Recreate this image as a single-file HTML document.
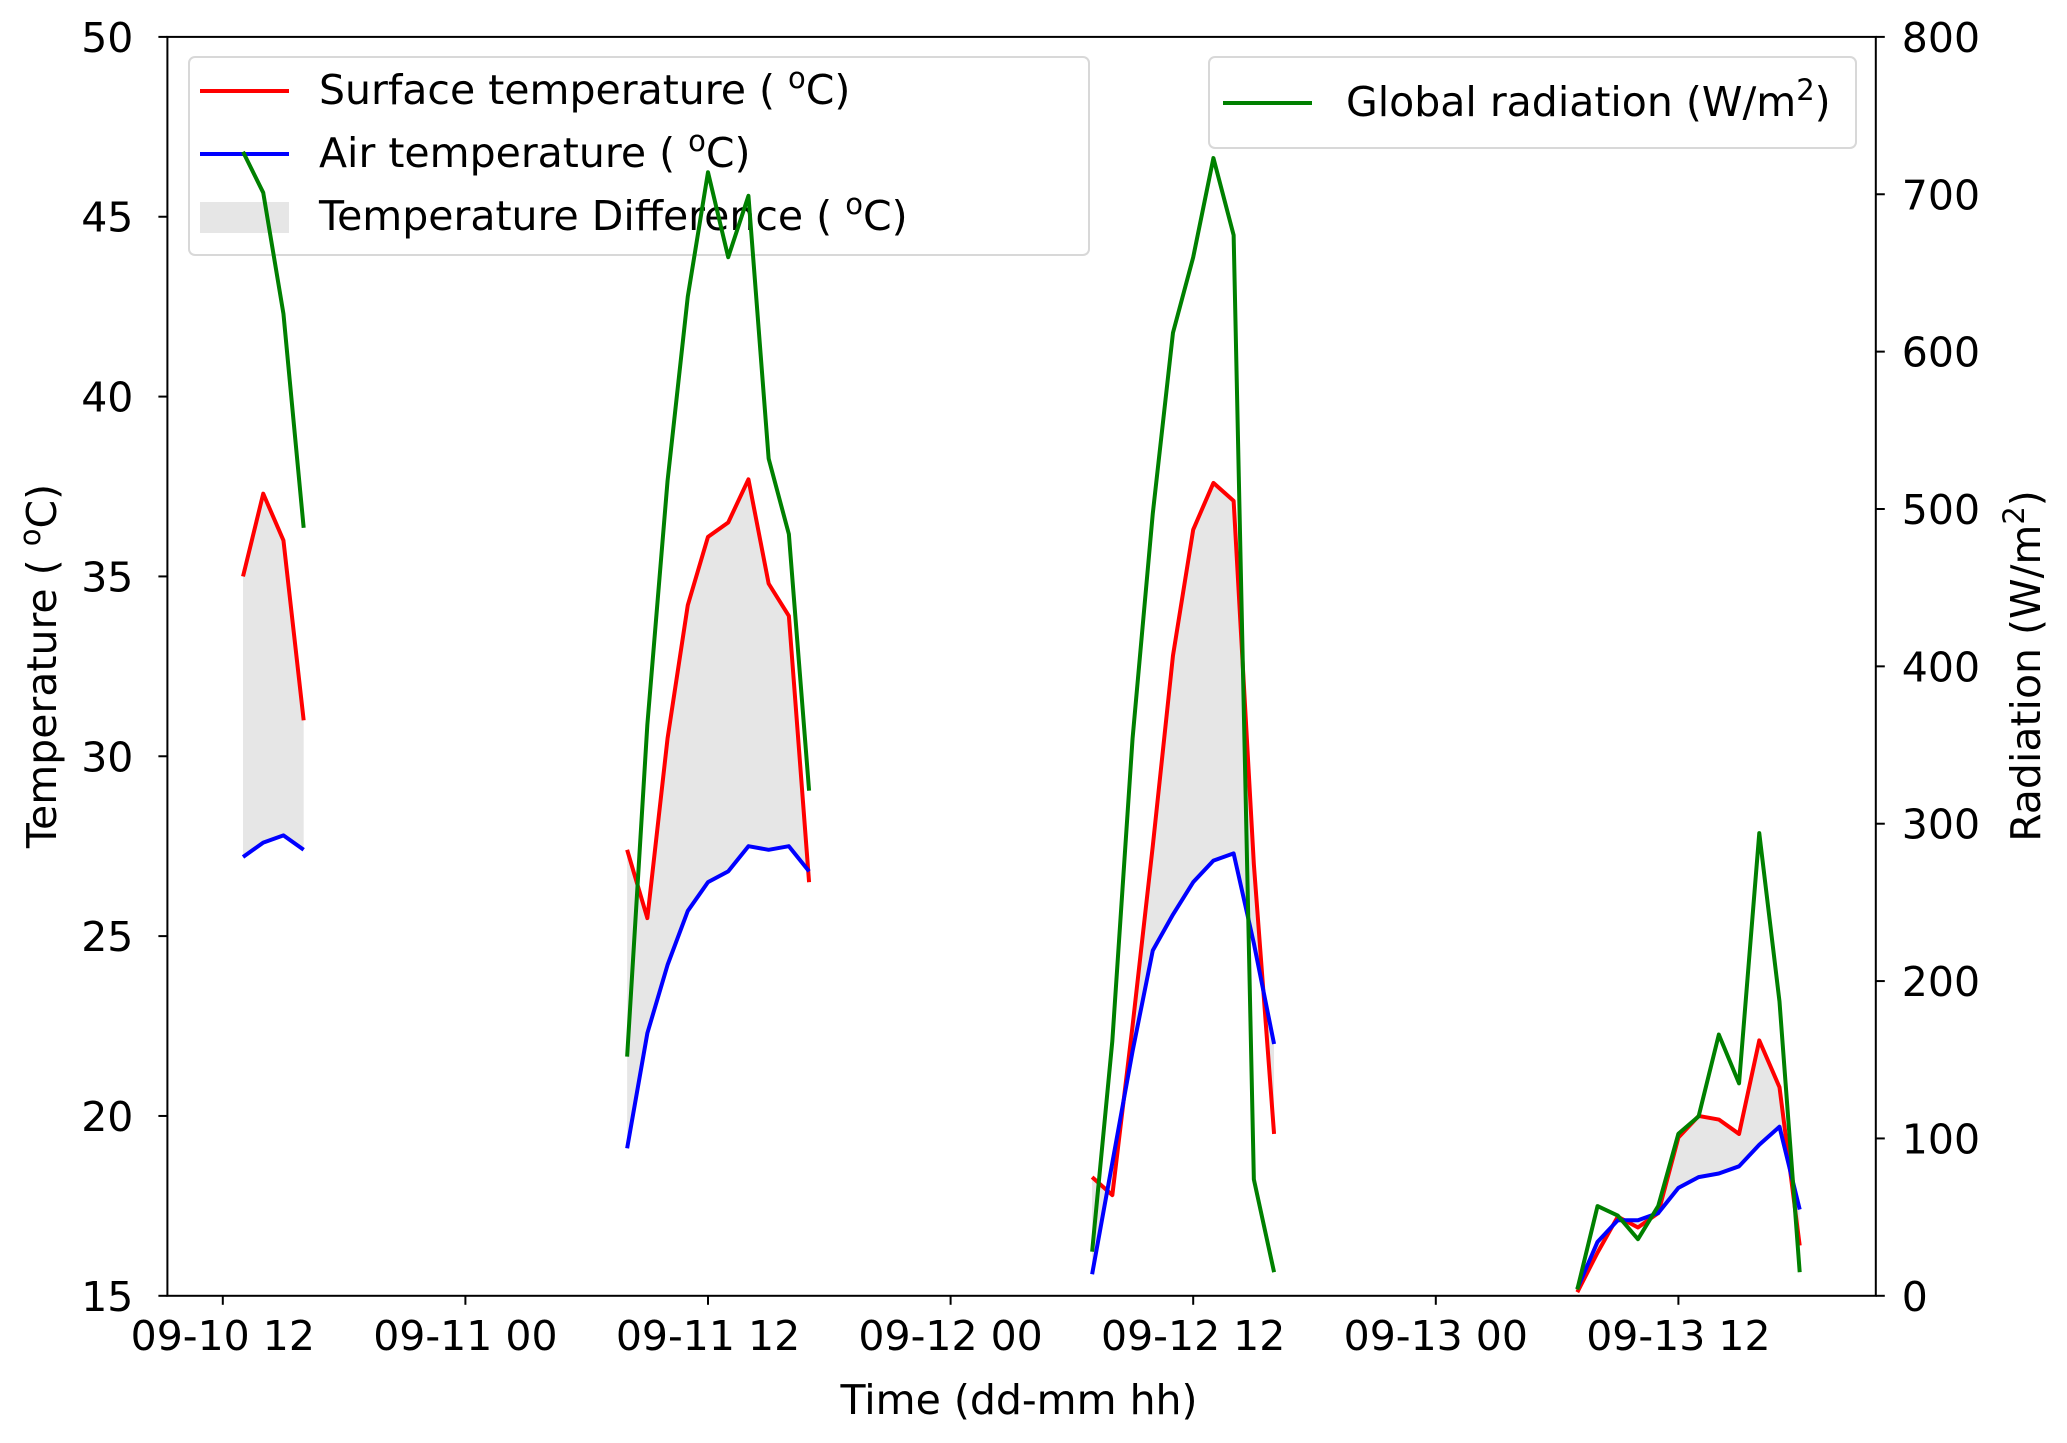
<!DOCTYPE html>
<html><head><meta charset="utf-8"><style>
html,body{margin:0;padding:0;background:#fff;}
svg{display:block;font-family:"DejaVu Sans","Liberation Sans",sans-serif;}
</style></head><body>
<svg id="chart" width="2067" height="1443" viewBox="0 0 2067 1443" xmlns="http://www.w3.org/2000/svg" font-size="41">
  <g id="under"></g>
  <g>
    <rect x="189" y="57" width="900" height="198" rx="6" fill="#fff" fill-opacity="0.8" stroke="#d8d8d8" stroke-width="2"/>
    <line x1="200" x2="289" y1="91" y2="91" stroke="#ff0000" stroke-width="4"/>
    <text x="319" y="104">Surface temperature ( <tspan font-size="29" dy="-16">o</tspan><tspan dy="16">C)</tspan></text>
    <line x1="200" x2="289" y1="154" y2="154" stroke="#0000ff" stroke-width="4"/>
    <text x="319" y="167">Air temperature ( <tspan font-size="29" dy="-16">o</tspan><tspan dy="16">C)</tspan></text>
    <rect x="200" y="202" width="89" height="31" fill="#e6e6e6"/>
    <text x="319" y="230">Temperature Difference ( <tspan font-size="29" dy="-16">o</tspan><tspan dy="16">C)</tspan></text>
  </g>
  <g id="over"></g>
  <g>
    <rect x="1209" y="57" width="647" height="91" rx="6" fill="#fff" fill-opacity="0.8" stroke="#d8d8d8" stroke-width="2"/>
    <line x1="1223" x2="1312" y1="103" y2="103" stroke="#008000" stroke-width="4"/>
    <text x="1346" y="116">Global radiation (W/m<tspan font-size="29" dy="-16">2</tspan><tspan dy="16">)</tspan></text>
  </g>
  <g id="axes"></g>
  <text x="1019" y="1414" text-anchor="middle">Time (dd-mm hh)</text>
  <text transform="translate(56,666) rotate(-90)" text-anchor="middle">Temperature ( <tspan font-size="29" dy="-16">o</tspan><tspan dy="16">C)</tspan></text>
  <text transform="translate(2040,666) rotate(-90)" text-anchor="middle">Radiation (W/m<tspan font-size="29" dy="-16">2</tspan><tspan dy="16">)</tspan></text>
</svg>
<script>
// ---- data (hours relative to 09-10 12:00) ----
const segHours = [[1,2,3,4],[20,21,22,23,24,25,26,27,28,29],[43,44,45,46,47,48,49,50,51,52],[67,68,69,70,71,72,73,74,75,76,77,78]];
const surfaceTemp = [[35,37.3,36,31],[27.4,25.5,30.5,34.2,36.1,36.5,37.7,34.8,33.9,26.5],[18.3,17.8,22.5,27.5,32.8,36.3,37.6,37.1,27,19.5],[15.1,16.2,17.2,16.9,17.3,19.4,20,19.9,19.5,22.1,20.8,16.4]];
const airTemp = [[27.2,27.6,27.8,27.4],[19.1,22.3,24.2,25.7,26.5,26.8,27.5,27.4,27.5,26.8],[15.6,18.7,21.8,24.6,25.6,26.5,27.1,27.3,24.8,22],[15.2,16.5,17.1,17.1,17.3,18,18.3,18.4,18.6,19.2,19.7,17.4]];
const radiation = [[727,701,624,488],[152,363,518,635,714,660,699,532,484,321],[28,162,354,497,612,660,723,674,74,15],[4,57,51,36,57,103,114,166,135,294,187,15]];
const xTickHours = [0,12,24,36,48,60,72];
const xTickLabels = ["09-10 12","09-11 00","09-11 12","09-12 00","09-12 12","09-13 00","09-13 12"];
const yTicks = [15,20,25,30,35,40,45,50];
const rTicks = [0,100,200,300,400,500,600,700,800];

const L=167.4,R=1875.8,T=36.9,B=1295.8;
const X0=222.8, PXH=242.6/12;
const x = h => X0 + h*PXH;
const yT = v => B - (v-15)/(50-15)*(B-T);
const yR = v => B - v/800*(B-T);
const NS="http://www.w3.org/2000/svg";
const under=document.getElementById('under');
const over=document.getElementById('over');
const axes=document.getElementById('axes');
function mk(tag,attrs,parent){const e=document.createElementNS(NS,tag);for(const k in attrs)e.setAttribute(k,attrs[k]);parent.appendChild(e);return e;}

segHours.forEach((hs,i)=>{
  let d='';
  hs.forEach((h,j)=>{d+=(j?'L':'M')+x(h)+','+yT(surfaceTemp[i][j]);});
  for(let j=hs.length-1;j>=0;j--) d+='L'+x(hs[j])+','+yT(airTemp[i][j]);
  const p=mk('path',{d:d+'Z',fill:'#e6e6e6',stroke:'none'},under);
  
  
});
function line(vals,fy,color,name,parent){
  segHours.forEach((hs,i)=>{
    const pts=hs.map((h,j)=>x(h)+','+fy(vals[i][j])).join(' ');
    const p=mk('polyline',{points:pts,fill:'none',stroke:color,'stroke-width':4,'stroke-linejoin':'round'},parent);
    
    
  });
}
line(surfaceTemp,yT,'#ff0000','surface-temperature-line',under);
line(airTemp,yT,'#0000ff','air-temperature-line',under);
line(radiation,yR,'#008000','global-radiation-line',over);

const frame=mk('rect',{x:L,y:T,width:R-L,height:B-T,fill:'none',stroke:'#000','stroke-width':2},axes);


xTickHours.forEach((h,i)=>{
  mk('line',{x1:x(h),x2:x(h),y1:B,y2:B+9,stroke:'#000','stroke-width':2},axes);
  const t=mk('text',{x:x(h),y:B+54,'text-anchor':'middle',fill:'#000'},axes);t.textContent=xTickLabels[i];
  
  
});
yTicks.forEach(v=>{
  mk('line',{x1:L-9,x2:L,y1:yT(v),y2:yT(v),stroke:'#000','stroke-width':2},axes);
  const t=mk('text',{x:L-34,y:yT(v)+15,'text-anchor':'end',fill:'#000'},axes);t.textContent=v;
  
  
});
rTicks.forEach(v=>{
  mk('line',{x1:R,x2:R+9,y1:yR(v),y2:yR(v),stroke:'#000','stroke-width':2},axes);
  const t=mk('text',{x:R+26,y:yR(v)+15,'text-anchor':'start',fill:'#000'},axes);t.textContent=v;
  
  
});
</script>
</body></html>
